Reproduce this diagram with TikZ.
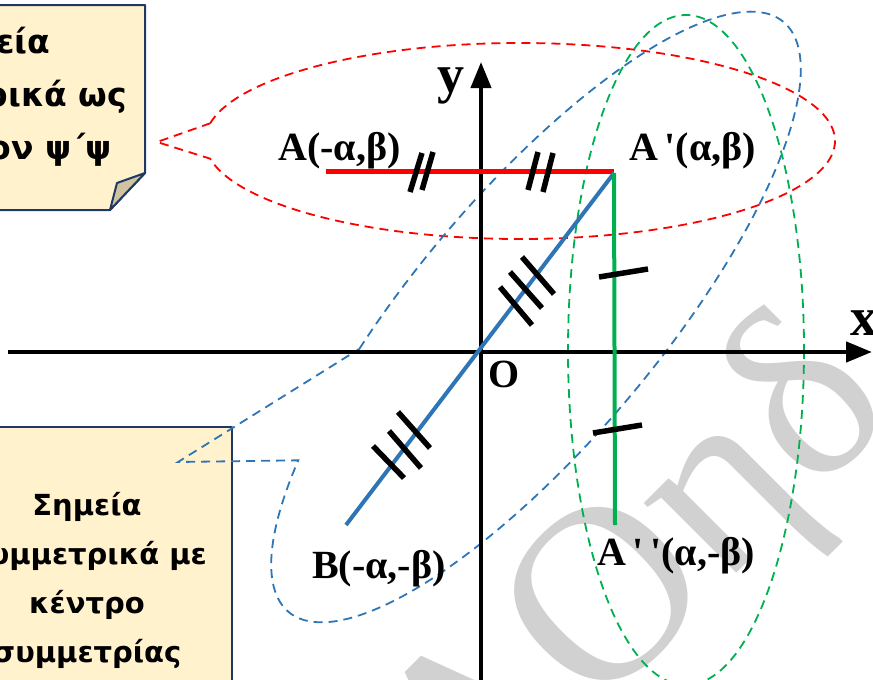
\documentclass[tikz,border=0pt]{standalone}
\usepackage{fontspec}
\setmainfont{Liberation Serif}
\newfontfamily\notefont{DejaVu Sans}
\usetikzlibrary{arrows.meta}

\definecolor{segblue}{HTML}{2E75B6}
\definecolor{segred}{HTML}{FF0000}
\definecolor{seggreen}{HTML}{00B050}
\definecolor{notefill}{HTML}{FFF2CC}
\definecolor{noteline}{HTML}{1F3864}
\definecolor{notefold}{HTML}{CFC3A0}

\tikzset{
  pt label/.style={font=\fontsize{40}{40}\selectfont\bfseries, inner sep=0pt},
  axis label/.style={font=\fontsize{54}{54}\selectfont\bfseries, inner sep=0pt},
  eqtick/.style={line width=5.5pt, black},
  callout line/.style={line width=1.8pt, dash pattern=on 9pt off 6pt},
  note/.style={fill=notefill, draw=noteline, line width=2pt, line join=round},
  note text/.style 2 args={align=center, inner sep=0pt, font=\notefont\bfseries\fontsize{#1}{#2}\selectfont},
}

\begin{document}
\begin{tikzpicture}[x=1pt, y=-1pt]
\useasboundingbox (0,0) rectangle (873,680);
\clip (0,0) rectangle (873,680);

% watermark
\node[rotate=45, text=black!18, font=\fontsize{250}{250}\selectfont] (mark) at (640,585) {ΛOηδ};

% notes
\draw[note] (-60,5) -- (145,5) -- (145,173) -- (110,210) -- (-60,210) -- cycle;
\draw[note, fill=notefold] (145,173) -- (117,183) -- (110,210) -- cycle;
\node[note text={33}{53}] (noteA) at (-12,97) {Σημεία\\συμμετρικά ως\\προς τον ψ΄ψ};
\draw[note] (-60,427) rectangle (232,700);
\node[note text={29}{49}] (noteB) at (87,580) {Σημεία\\συμμετρικά με\\κέντρο\\συμμετρίας};

% points
\coordinate (O) at (481,352);
\coordinate (A) at (326,171);
\coordinate (A1) at (614,171);
\coordinate (A1b) at (614,173);
\coordinate (A2) at (615,525);
\coordinate (B) at (346,525);
\coordinate (xstart) at (8,352);
\coordinate (xend) at (872,352);
\coordinate (ybot) at (481,690);
\coordinate (ytop) at (481,62);
\coordinate (tipA) at (157,142);
\coordinate (tipB) at (178,462);

% dashed callouts
\begin{scope}[shift={(520,141)}]
\draw[segred, callout line] (190.4:315 and 98) arc[start angle=190.4, end angle=529.6, x radius=315, y radius=98] -- (tipA) -- cycle;
\end{scope}
\begin{scope}[shift={(536,317)}, rotate=50]
\draw[segblue, callout line] (249:385 and 123) arc[start angle=249, end angle=587, x radius=385, y radius=123] -- (tipB) -- cycle;
\end{scope}
\draw[seggreen, callout line] (686,350) ellipse[x radius=118, y radius=335];

% axes
\draw[line width=4.5pt, -{Triangle[length=26pt, width=20pt]}] (xstart) -- (xend);
\draw[line width=4pt, -{Triangle[length=26pt, width=20pt]}] (ybot) -- (ytop);

% segments
\draw[segred, line width=5pt] (A) -- (A1);
\draw[segblue, line width=4pt] (B) -- (A1b);
\draw[seggreen, line width=4pt] (A1b) -- (A2);

% equal marks
\draw[eqtick] (410,192) -- (422,153);
\draw[eqtick] (422,190) -- (433,152);
\draw[eqtick] (528,190) -- (538,152);
\draw[eqtick] (543,192) -- (553,153);
\draw[eqtick] (500,287) -- (532,325);
\draw[eqtick] (510,272) -- (542,308);
\draw[eqtick] (522,257) -- (554,294);
\draw[eqtick] (373,446) -- (404,478);
\draw[eqtick] (389,431) -- (421,468);
\draw[eqtick] (398,412) -- (430,448);
\draw[eqtick] (599,277) -- (648,269);
\draw[eqtick] (593,433) -- (642,425);

% labels
\node[pt label, anchor=base west] (Alab) at (278,160) {A(-α,β)};
\node[pt label, anchor=base west] (A1lab) at (629,160) {A\,\textquotesingle(α,β)};
\node[pt label, anchor=base west] (Blab) at (312,578) {B(-α,-β)};
\node[pt label, anchor=base west] (A2lab) at (597,565) {A\,\textquotesingle\,\textquotesingle(α,-β)};
\node[pt label, anchor=base west] (Olab) at (488,387) {O};
\node[axis label, anchor=base west] (ylab) at (437,92) {y};
\node[axis label, anchor=base west] (xlab) at (850,335) {x};
\end{tikzpicture}
\end{document}
